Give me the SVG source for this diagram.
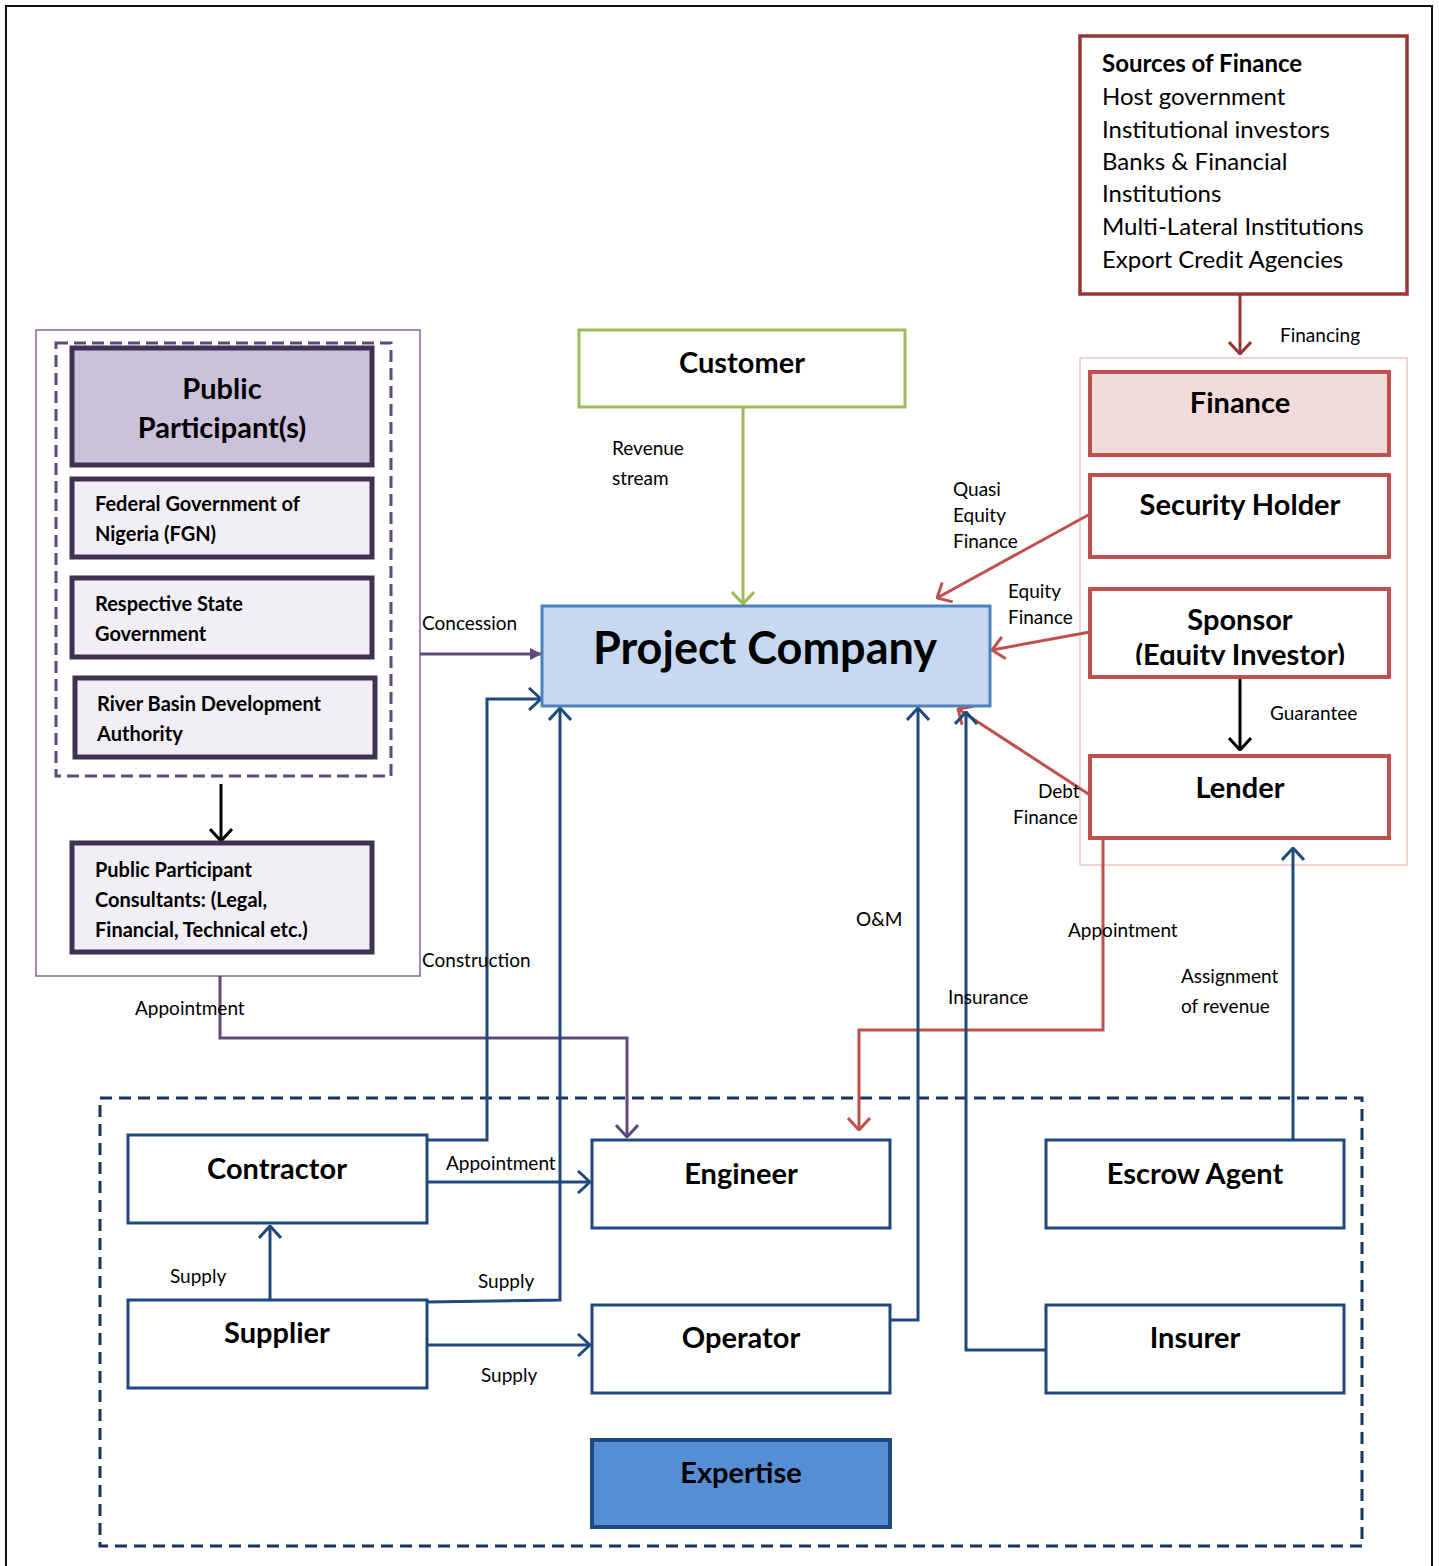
<svg xmlns="http://www.w3.org/2000/svg" width="1439" height="1566" viewBox="0 0 1439 1566">
<style>
text{font-family:Lato,"Noto Sans","Liberation Sans",sans-serif;fill:#000}
.lbl{font-size:19px}
.b{font-weight:bold}
.bt{font-weight:bold;font-size:29px;text-anchor:middle}
.pt{font-weight:bold;font-size:20px}
.src{font-size:24px}
.nb{fill:#fff;stroke:#1f497d;stroke-width:3}
.rb{fill:#fff;stroke:#c0504d;stroke-width:4}
.pb{fill:#f1eff5;stroke:#3f3151;stroke-width:5}
.bl{fill:none;stroke:#1f497d;stroke-width:3}
.rl{fill:none;stroke:#c0504d;stroke-width:3}
</style>
<defs>
<marker id="aB" viewBox="0 0 14 24" refX="13" refY="12" markerWidth="14" markerHeight="24" markerUnits="userSpaceOnUse" orient="auto"><path d="M1,1 L13,12 L1,23" fill="none" stroke="#1f497d" stroke-width="3"/></marker>
<marker id="aR" viewBox="0 0 14 24" refX="13" refY="12" markerWidth="14" markerHeight="24" markerUnits="userSpaceOnUse" orient="auto"><path d="M1,1 L13,12 L1,23" fill="none" stroke="#c0504d" stroke-width="3"/></marker>
<marker id="aD" viewBox="0 0 14 24" refX="13" refY="12" markerWidth="14" markerHeight="24" markerUnits="userSpaceOnUse" orient="auto"><path d="M1,1 L13,12 L1,23" fill="none" stroke="#953735" stroke-width="3"/></marker>
<marker id="aK" viewBox="0 0 14 24" refX="13" refY="12" markerWidth="14" markerHeight="24" markerUnits="userSpaceOnUse" orient="auto"><path d="M1,1 L13,12 L1,23" fill="none" stroke="#000" stroke-width="3"/></marker>
<marker id="aG" viewBox="0 0 14 24" refX="13" refY="12" markerWidth="14" markerHeight="24" markerUnits="userSpaceOnUse" orient="auto"><path d="M1,1 L13,12 L1,23" fill="none" stroke="#9bbb59" stroke-width="3"/></marker>
<marker id="aP" viewBox="0 0 12 12" refX="11" refY="6" markerWidth="12" markerHeight="12" markerUnits="userSpaceOnUse" orient="auto"><path d="M0,0 L12,6 L0,12 z" fill="#604a7b"/></marker>
<marker id="aPo" viewBox="0 0 14 24" refX="13" refY="12" markerWidth="14" markerHeight="24" markerUnits="userSpaceOnUse" orient="auto"><path d="M1,1 L13,12 L1,23" fill="none" stroke="#604a7b" stroke-width="3"/></marker>
<clipPath id="spc"><rect x="1092" y="591" width="296" height="74"/></clipPath>
</defs>

<!-- outer frame -->
<path d="M6,1566 V6 H1432 V1566" fill="none" stroke="#111" stroke-width="2"/>

<!-- containers -->
<g id="public-panel">
<rect x="36" y="330" width="384" height="646" fill="none" stroke="#8064a2" stroke-width="1.5"/>
<rect x="56" y="343" width="335" height="433" fill="none" stroke="#604a7b" stroke-width="3" stroke-dasharray="12,6"/>
</g>
<g id="finance-panel">
<rect x="1080" y="358" width="327" height="507" fill="none" stroke="#e6b9b8" stroke-width="1.2"/>
</g>
<g id="private-panel">
<rect x="100" y="1098" width="1262" height="448" fill="none" stroke="#17375e" stroke-width="3" stroke-dasharray="12,7"/>
</g>

<!-- connectors -->
<g id="connectors">
<path d="M1240,294 V354" fill="none" stroke="#953735" stroke-width="3" marker-end="url(#aD)"/>
<path d="M1240,677 V750" fill="none" stroke="#000" stroke-width="3" marker-end="url(#aK)"/>
<path d="M743,407 V604" fill="none" stroke="#9bbb59" stroke-width="3" marker-end="url(#aG)"/>
<path d="M420,654 H541" fill="none" stroke="#604a7b" stroke-width="3" marker-end="url(#aP)"/>
<path d="M221,784 V841" fill="none" stroke="#000" stroke-width="3" marker-end="url(#aK)"/>
<path d="M220,976 V1038 H627 V1137" fill="none" stroke="#604a7b" stroke-width="3" marker-end="url(#aPo)"/>
<path class="rl" d="M1090,514 L937,598" marker-end="url(#aR)"/>
<path class="rl" d="M1090,632 L992,650" marker-end="url(#aR)"/>
<path class="rl" d="M1090,795 L958,709" marker-end="url(#aR)"/>
<path class="rl" d="M1103,838 V1030 H859 V1130" marker-end="url(#aR)"/>
<path class="bl" d="M427,1140 H487 V699 H541" marker-end="url(#aB)"/>
<path class="bl" d="M427,1302 L560,1300 V708" marker-end="url(#aB)"/>
<path class="bl" d="M427,1182 H590" marker-end="url(#aB)"/>
<path class="bl" d="M270,1300 V1226" marker-end="url(#aB)"/>
<path class="bl" d="M427,1345 H590" marker-end="url(#aB)"/>
<path class="bl" d="M890,1320 H918 V708" marker-end="url(#aB)"/>
<path class="bl" d="M1046,1350 H966 V712" marker-end="url(#aB)"/>
<path class="bl" d="M1293,1140 V848" marker-end="url(#aB)"/>
</g>

<!-- connector labels -->
<g id="labels">
<text class="lbl" x="1280" y="342">Financing</text>
<text class="lbl" x="1270" y="720">Guarantee</text>
<text class="lbl" x="612" y="455">Revenue</text>
<text class="lbl" x="612" y="485">stream</text>
<text class="lbl" x="422" y="630">Concession</text>
<text class="lbl" x="422" y="967">Construction</text>
<text class="lbl" x="135" y="1015">Appointment</text>
<text class="lbl" x="953" y="496">Quasi</text>
<text class="lbl" x="953" y="522">Equity</text>
<text class="lbl" x="953" y="548">Finance</text>
<text class="lbl" x="1008" y="598">Equity</text>
<text class="lbl" x="1008" y="624">Finance</text>
<text class="lbl" x="1038" y="798">Debt</text>
<text class="lbl" x="1013" y="824">Finance</text>
<text class="lbl" x="1068" y="937">Appointment</text>
<text class="lbl" x="856" y="926">O&amp;M</text>
<text class="lbl" x="948" y="1004">Insurance</text>
<text class="lbl" x="1181" y="983">Assignment</text>
<text class="lbl" x="1181" y="1013">of revenue</text>
<text class="lbl" x="446" y="1170">Appointment</text>
<text class="lbl" x="170" y="1283">Supply</text>
<text class="lbl" x="478" y="1288">Supply</text>
<text class="lbl" x="481" y="1382">Supply</text>
</g>

<!-- nodes -->
<g id="sources">
<rect x="1080" y="36" width="327" height="258" fill="#fff" stroke="#953735" stroke-width="3.5"/>
<text class="src b" x="1102" y="72">Sources of Finance</text>
<text class="src" x="1102" y="105">Host government</text>
<text class="src" x="1102" y="138">Institutional investors</text>
<text class="src" x="1102" y="170">Banks &amp; Financial</text>
<text class="src" x="1102" y="202">Institutions</text>
<text class="src" x="1102" y="235">Multi-Lateral Institutions</text>
<text class="src" x="1102" y="268">Export Credit Agencies</text>
</g>
<g id="finance">
<rect x="1090" y="372" width="299" height="83" fill="#f2dcdb" stroke="#c0504d" stroke-width="4"/>
<text class="bt" x="1240" y="413">Finance</text>
</g>
<g id="security-holder">
<rect class="rb" x="1090" y="475" width="299" height="82"/>
<text class="bt" x="1240" y="515">Security Holder</text>
</g>
<g id="sponsor">
<rect class="rb" x="1090" y="589" width="299" height="88"/>
<text class="bt" x="1240" y="630">Sponsor</text>
<text class="bt" x="1240" y="665" clip-path="url(#spc)">(Equity Investor)</text>
</g>
<g id="lender">
<rect class="rb" x="1090" y="756" width="299" height="82"/>
<text class="bt" x="1240" y="798">Lender</text>
</g>
<g id="customer">
<rect x="579" y="330" width="326" height="77" fill="#fff" stroke="#9bbb59" stroke-width="3"/>
<text class="bt" x="742" y="373">Customer</text>
</g>
<g id="project-company">
<rect x="542" y="606" width="448" height="100" fill="#c6d9f1" stroke="#4f81bd" stroke-width="3"/>
<text x="765" y="664" font-size="45" font-weight="bold" text-anchor="middle">Project Company</text>
</g>
<g id="public-participants">
<rect x="72" y="348" width="300" height="117" fill="#ccc1da" stroke="#3f3151" stroke-width="5"/>
<text class="bt" x="222" y="399" font-size="31">Public</text>
<text class="bt" x="222" y="438" font-size="31">Participant(s)</text>
</g>
<g id="fgn">
<rect class="pb" x="72" y="479" width="300" height="78"/>
<text class="pt" x="95" y="511">Federal Government of</text>
<text class="pt" x="95" y="541">Nigeria (FGN)</text>
</g>
<g id="state-government">
<rect class="pb" x="72" y="578" width="300" height="79"/>
<text class="pt" x="95" y="611">Respective State</text>
<text class="pt" x="95" y="641">Government</text>
</g>
<g id="river-basin">
<rect class="pb" x="75" y="678" width="300" height="79"/>
<text class="pt" x="97" y="711">River Basin Development</text>
<text class="pt" x="97" y="741">Authority</text>
</g>
<g id="consultants">
<rect class="pb" x="72" y="843" width="300" height="109"/>
<text class="pt" x="95" y="877">Public Participant</text>
<text class="pt" x="95" y="907">Consultants: (Legal,</text>
<text class="pt" x="95" y="937">Financial, Technical etc.)</text>
</g>
<g id="contractor">
<rect class="nb" x="128" y="1135" width="299" height="88"/>
<text class="bt" x="277" y="1179">Contractor</text>
</g>
<g id="engineer">
<rect class="nb" x="592" y="1140" width="298" height="88"/>
<text class="bt" x="741" y="1184">Engineer</text>
</g>
<g id="escrow-agent">
<rect class="nb" x="1046" y="1140" width="298" height="88"/>
<text class="bt" x="1195" y="1184">Escrow Agent</text>
</g>
<g id="supplier">
<rect class="nb" x="128" y="1300" width="299" height="88"/>
<text class="bt" x="277" y="1343">Supplier</text>
</g>
<g id="operator">
<rect class="nb" x="592" y="1305" width="298" height="88"/>
<text class="bt" x="741" y="1348">Operator</text>
</g>
<g id="insurer">
<rect class="nb" x="1046" y="1305" width="298" height="88"/>
<text class="bt" x="1195" y="1348">Insurer</text>
</g>
<g id="expertise">
<rect x="592" y="1440" width="298" height="87" fill="#558ed5" stroke="#1f497d" stroke-width="4"/>
<text class="bt" x="741" y="1483">Expertise</text>
</g>
</svg>
